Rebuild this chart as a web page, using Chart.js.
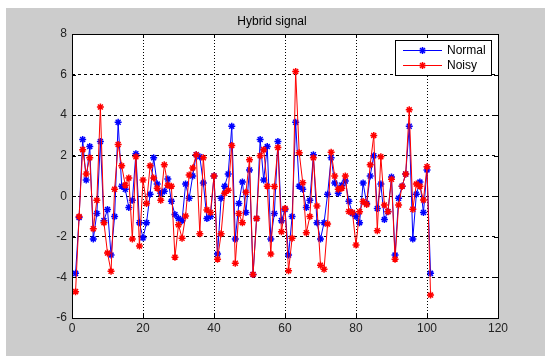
<!DOCTYPE html>
<html>
<head>
<meta charset="utf-8">
<script src="https://cdn.jsdelivr.net/npm/chart.js@4/dist/chart.umd.min.js"></script>
<style>
  html, body { margin: 0; padding: 0; background: #fff; }
  #wrap { width: 545px; height: 356px; }
</style>
</head>
<body>
<div id="wrap"><canvas id="myChart" width="545" height="356"></canvas></div>
<script>
// values, sample 1..101
var normal = [
  -3.8, -1.05, 2.8, 0.8, 2.45, -2.1, -0.85, 2.7, -1.2, -0.65,
  -2.9, -1.0, 3.65, 0.5, 0.35, -0.55, -0.2, 2.1, -1.3, -2.05,
  -1.3, 0.1, 1.9, 0.6, 0.15, 0.25, 0.85, -0.25, -0.9, -1.1,
  -1.2, 0.6, -0.1, 1.0, 2.05, 1.95, 0.65, -1.1, -1.0, 1.0,
  -2.85, -0.1, 0.5, 1.1, 3.45, -2.1, -0.35, 0.7, -0.8, 1.3,
  -3.85, -1.1, 2.8, 0.8, 2.45, -2.1, -0.85, 2.7, -1.2, -0.65,
  -2.9, -1.0, 3.65, 0.5, 0.35, -0.55, -0.2, 2.05, -1.3, -2.1,
  -1.3, 0.1, 1.9, 0.65, 0.15, 0.55, 0.75, -0.25, -0.85, -1.0,
  -1.3, 0.65, -0.35, 1.0, 2.0, -0.6, 0.6, -1.15, -0.75, 0.95,
  -2.9, -0.1, 0.5, 1.1, 3.45, -2.1, 0.1, 0.7, -0.8, 1.3,
  -3.8
];
var noisy = [
  -4.7, -1.0, 2.3, 1.1, 1.9, -1.6, -0.2, 4.4, -1.3, -2.8,
  -3.7, 0.35, 2.55, 1.5, 0.55, 0.9, -2.1, 1.95, -2.45, 0.8,
  -0.35, 1.5, 0.9, 0.4, -0.2, 1.55, 0.55, 0.5, -3.0, -1.4,
  -2.07, -0.97, 1.05, 1.4, 2.05, -1.85, 1.9, -0.67, -0.8, 1.0,
  -3.1, -1.85, 0.15, 0.3, 2.5, -3.3, -0.85, -1.3, 0.2, 1.8,
  -3.85, -1.1, 2.0, 2.3, 0.5, -2.85, 0.48, 2.4, -1.75, -0.6,
  -3.67, -2.07, 6.15, 2.15, 0.67, -1.8, -1.0, 1.9, -0.48, -3.4,
  -3.6, -1.37, 2.17, 1.0, 0.35, 0.4, 1.0, -0.75, -0.8, -2.4,
  -0.76, -0.26, -0.4, 1.55, 3.0, -1.7, 1.95, -0.43, -0.76, 0.84,
  -3.1, -0.43, 0.5, 1.1, 4.26, -0.64, 0.6, 0.5, -0.18, 1.46,
  -4.87
];
var xTicks = [0, 20, 40, 60, 80, 100, 120];
var yTicks = [-6, -4, -2, 0, 2, 4, 6, 8];
var seriesNames = ['Normal', 'Noisy'];
var titleText = 'Hybrid signal';

var blue = '#0000ff';
var red = '#ff0000';
var fontFamily = 'Liberation Sans, Arial, sans-serif';
var labelFont = { family: fontFamily, size: 12 };

function toPoints(arr) {
  var out = [];
  for (var i = 0; i < arr.length; i++) {
    out.push({ x: i + 1, y: arr[i] });
  }
  return out;
}

// gray figure, white axes, box with inward ticks, title, legend
var matlabLook = {
  id: 'matlabLook',
  beforeDraw: function (chart) {
    var ctx = chart.ctx, a = chart.chartArea;
    ctx.save();
    ctx.fillStyle = '#ffffff';
    ctx.fillRect(0, 0, chart.width, chart.height);
    ctx.fillStyle = '#cccccc';
    ctx.fillRect(6, 8, chart.width - 6, chart.height - 8);
    ctx.fillStyle = '#ffffff';
    ctx.fillRect(a.left, a.top, a.right - a.left, a.bottom - a.top);
    ctx.restore();
  },
  afterDraw: function (chart) {
    var ctx = chart.ctx, a = chart.chartArea;
    var xs = chart.scales.x, ys = chart.scales.y;
    ctx.save();
    ctx.strokeStyle = '#000';
    ctx.lineWidth = 1;
    ctx.setLineDash([]);
    ctx.strokeRect(Math.round(a.left) + 0.5, Math.round(a.top) + 0.5,
      Math.round(a.right - a.left), Math.round(a.bottom - a.top));
    ctx.beginPath();
    xTicks.forEach(function (v) {
      var px = Math.round(xs.getPixelForValue(v)) + 0.5;
      ctx.moveTo(px, a.bottom); ctx.lineTo(px, a.bottom - 4);
      ctx.moveTo(px, a.top); ctx.lineTo(px, a.top + 4);
    });
    yTicks.forEach(function (v) {
      var py = Math.round(ys.getPixelForValue(v)) + 0.5;
      ctx.moveTo(a.left, py); ctx.lineTo(a.left + 4, py);
      ctx.moveTo(a.right, py); ctx.lineTo(a.right - 4, py);
    });
    ctx.stroke();

    // title
    ctx.fillStyle = '#000';
    ctx.font = '12px ' + fontFamily;
    ctx.textAlign = 'center';
    ctx.textBaseline = 'middle';
    ctx.fillText(titleText, 272, 22);

    // legend box
    var lx = 395.5, ly = 40.5, lw = 96, lh = 35;
    ctx.fillStyle = '#fff';
    ctx.fillRect(lx, ly, lw, lh);
    ctx.strokeRect(lx, ly, lw, lh);
    var colors = [blue, red];
    var rows = [50, 65];
    ctx.textAlign = 'left';
    for (var i = 0; i < 2; i++) {
      var y = rows[i] + 0.5;
      ctx.strokeStyle = colors[i];
      ctx.lineWidth = 1;
      ctx.beginPath();
      ctx.moveTo(403, y); ctx.lineTo(442, y);
      ctx.stroke();
      ctx.lineWidth = 1.5;
      ctx.beginPath();
      var cx = 422.5, r = 3.5, d = r * 0.707;
      ctx.moveTo(cx - r, y); ctx.lineTo(cx + r, y);
      ctx.moveTo(cx, y - r); ctx.lineTo(cx, y + r);
      ctx.moveTo(cx - d, y - d); ctx.lineTo(cx + d, y + d);
      ctx.moveTo(cx - d, y + d); ctx.lineTo(cx + d, y - d);
      ctx.stroke();
      ctx.fillStyle = '#000';
      ctx.fillText(seriesNames[i], 447, y);
    }
    ctx.restore();
  }
};

function gridColor(edges) {
  return function (c) {
    if (c.tick && edges.indexOf(c.tick.value) >= 0) return 'rgba(0,0,0,0)';
    return '#000';
  };
}

new Chart('myChart', {
  type: 'line',
  data: {
    datasets: [{
      label: seriesNames[0],
      data: toPoints(normal),
      borderColor: blue,
      backgroundColor: blue,
      borderWidth: 1,
      pointStyle: 'star',
      pointRadius: 3.5,
      pointBorderWidth: 1.5,
      pointBorderColor: blue,
      tension: 0,
      order: 1
    }, {
      label: seriesNames[1],
      data: toPoints(noisy),
      borderColor: red,
      backgroundColor: red,
      borderWidth: 1,
      pointStyle: 'star',
      pointRadius: 3.5,
      pointBorderWidth: 1.5,
      pointBorderColor: red,
      tension: 0,
      order: 0
    }]
  },
  options: {
    responsive: false,
    animation: false,
    events: [],
    layout: { padding: { left: 0, right: 47, top: 34, bottom: 0 } },
    plugins: {
      legend: { display: false },
      tooltip: { enabled: false },
      title: { display: false }
    },
    scales: {
      x: {
        type: 'linear',
        min: 0, max: 120,
        afterFit: function (s) { s.height = 38; },
        afterBuildTicks: function (s) { s.ticks = xTicks.map(function (v) { return { value: v }; }); },
        ticks: { color: '#222', font: labelFont, padding: 3, maxRotation: 0 },
        grid: { color: gridColor([0, 120]), lineWidth: 1, drawTicks: false, tickLength: 0 },
        border: { display: false, dash: [1, 2] }
      },
      y: {
        type: 'linear',
        min: -6, max: 8,
        afterFit: function (s) { s.width = 72; },
        afterBuildTicks: function (s) { s.ticks = yTicks.map(function (v) { return { value: v }; }); },
        ticks: { color: '#222', font: labelFont, padding: 5 },
        grid: { color: gridColor([-6, 8]), lineWidth: 1, drawTicks: false, tickLength: 0 },
        border: { display: false, dash: [3, 3] }
      }
    }
  },
  plugins: [matlabLook]
});
</script>
</body>
</html>
